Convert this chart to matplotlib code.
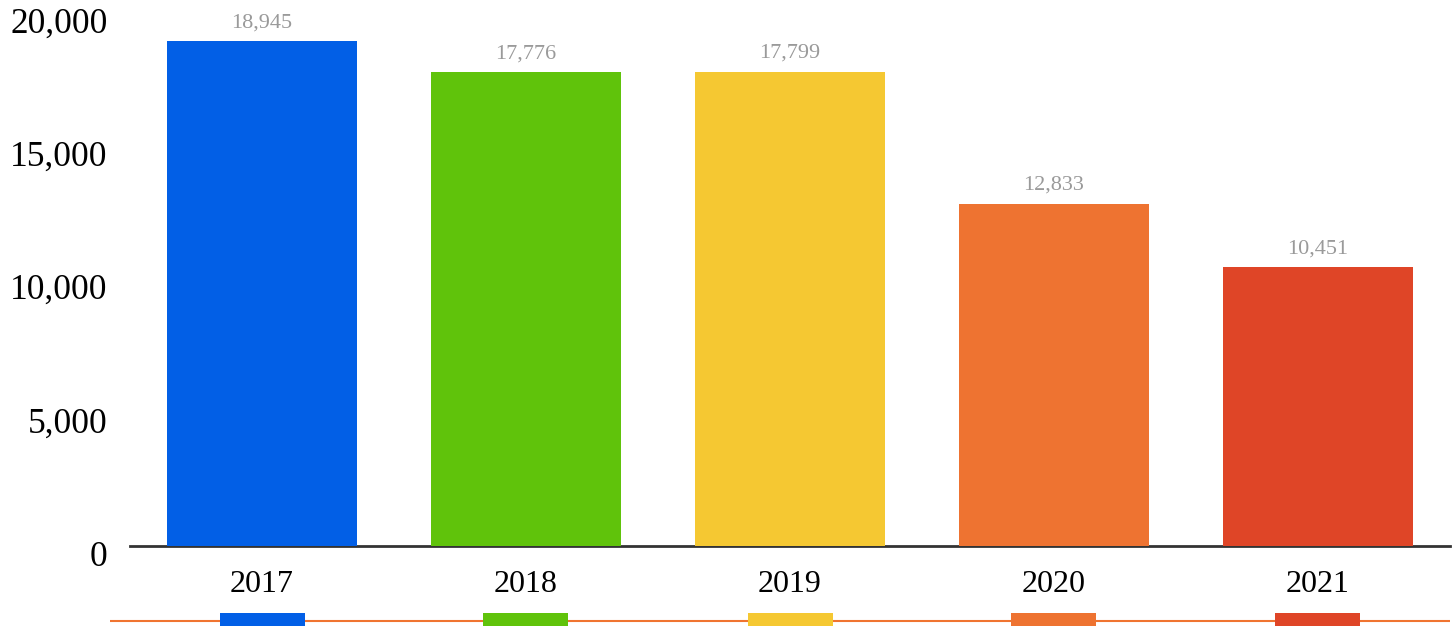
import matplotlib.pyplot as plt
from matplotlib.transforms import ScaledTranslation

years = ['2017', '2018', '2019', '2020', '2021']
values = [18945, 17776, 17799, 12833, 10451]
colors = ['#025FE6', '#60C30B', '#F5C832', '#EE7331', '#DF4527']
yticks = [0, 5000, 10000, 15000, 20000]

plt.rcParams['font.family'] = ['Liberation Serif', 'DejaVu Serif']

fig = plt.figure(figsize=(14.56, 6.26), dpi=100)
ax = fig.add_axes([130/1456, 80/626, 1320/1456, 533/626])

x = range(len(years))
bars = ax.bar(x, values, width=0.72, color=colors, zorder=3)
for xi, v in zip(x, values):
    ax.annotate(f'{v:,}', (xi, v), xytext=(0, 6.5), textcoords='offset points',
                ha='center', va='bottom', fontsize=16, color='#9a9a9a')

ax.set_xlim(-0.5, 4.5)
ax.set_ylim(0, 20000)
ax.set_xticks(list(x))
ax.set_xticklabels(years, fontsize=23)
ax.set_yticks(yticks)
ax.set_yticklabels([f'{t:,}' for t in yticks], fontsize=25.5)
ax.tick_params(axis='x', length=0, pad=17)
ax.tick_params(axis='y', length=0, pad=16)
for lab in ax.get_yticklabels():
    lab.set_transform(lab.get_transform() + ScaledTranslation(0, -7/100, fig.dpi_scale_trans))

for s in ['top', 'right', 'left']:
    ax.spines[s].set_visible(False)
ax.spines['bottom'].set_linewidth(2)
ax.spines['bottom'].set_color('#333333')

# legend strip at the bottom
lx = fig.add_axes([110/1456, 0, 1340/1456, 22/626])
lx.set_xlim(-0.5 - 20/264, 4.5)
lx.set_ylim(0, 1)
lx.axhline(0.23, color='#F07430', linewidth=1.5, zorder=1)
lx.bar(x, [0.59]*len(years), width=85/264, color=colors, zorder=2)
lx.axis('off')

fig.savefig('out.png', dpi=100)
